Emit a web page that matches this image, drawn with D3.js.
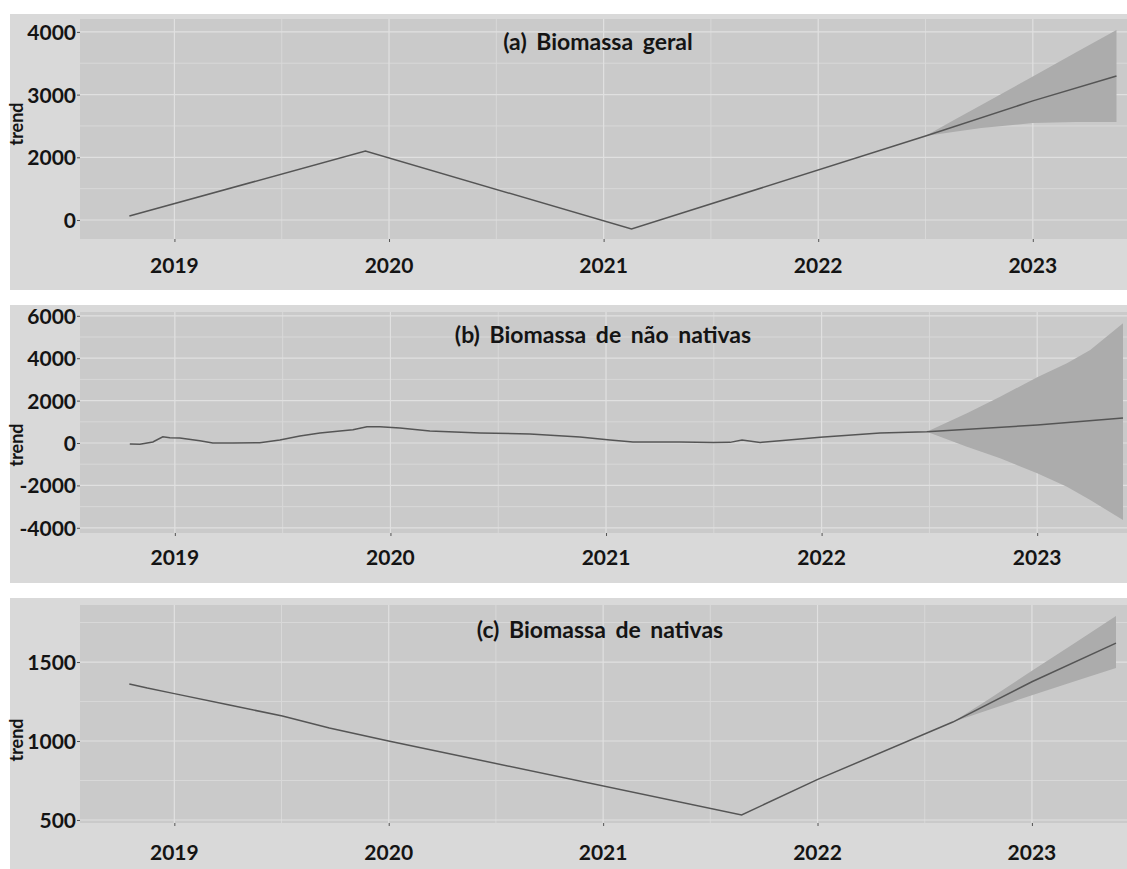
<!DOCTYPE html>
<html>
<head>
<meta charset="utf-8">
<script src="https://cdn.jsdelivr.net/npm/d3@7"></script>
<style>
  body { margin: 0; background: #ffffff; }
  svg text { font-family: Lato, "Open Sans", sans-serif; font-weight: 700; fill: #141414; }
</style>
</head>
<body>
<svg id="chart" width="1127" height="869"></svg>
<script>
// ---------- data ----------
const yearTicks = [2019, 2020, 2021, 2022, 2023];

// (a) Biomassa geral
const geralYears = [2018.79, 2019.89, 2021.13, 2022.50, 2023.00, 2023.39];
const geralTrend = [1064, 2100, 856, 2340, 2900, 3297];
const geralBandYears = [2022.50, 2022.62, 2022.76, 2023.00, 2023.20, 2023.39];
const geralLower = [2340, 2400, 2467, 2547, 2565, 2563];
const geralUpper = [2340, 2570, 2835, 3289, 3670, 4030];
const geralTicks = [1000, 2000, 3000, 4000];
const geralTickLabels = ["0", "2000", "3000", "4000"];
const geralMinor = [1500, 2500, 3500];

// (b) Biomassa de não nativas
const naoNativasYears = [2018.791, 2018.838, 2018.898, 2018.944, 2018.977, 2019.023, 2019.116, 2019.176,
  2019.269, 2019.394, 2019.487, 2019.580, 2019.673, 2019.766, 2019.826, 2019.891, 2019.951, 2020.044,
  2020.183, 2020.415, 2020.647, 2020.879, 2021.019, 2021.125, 2021.343, 2021.497, 2021.575, 2021.631,
  2021.715, 2021.807, 2021.993, 2022.271, 2022.488, 2023.000, 2023.398];
const naoNativasTrend = [-47, -60, 47, 297, 250, 236, 108, 0,
  0, 14, 141, 330, 472, 566, 627, 769, 769, 708,
  566, 470, 425, 283, 140, 47, 47, 20, 30, 140,
  30, 110, 270, 470, 533, 850, 1180];
const naoNativasBandYears = [2022.488, 2022.674, 2022.828, 2023.000, 2023.138, 2023.246, 2023.398];
const naoNativasLower = [533, -174, -722, -1429, -2061, -2689, -3632];
const naoNativasUpper = [533, 1400, 2184, 3099, 3759, 4387, 5646];
const naoNativasTicks = [-4000, -2000, 0, 2000, 4000, 6000];
const naoNativasTickLabels = ["-4000", "-2000", "0", "2000", "4000", "6000"];
const naoNativasMinor = [-3000, -1000, 1000, 3000, 5000];

// (c) Biomassa de nativas
const nativasYears = [2018.790, 2018.874, 2019.000, 2019.257, 2019.504, 2019.723, 2019.999,
  2021.646, 2022.001, 2022.631, 2023.000, 2023.392];
const nativasTrend = [1361, 1335, 1300, 1228, 1158, 1082, 1000, 532, 757, 1120, 1375, 1620];
const nativasBandYears = [2022.631, 2022.800, 2023.000, 2023.200, 2023.392];
const nativasLower = [1120, 1198, 1290, 1378, 1462];
const nativasUpper = [1120, 1266, 1444, 1620, 1791];
const nativasTicks = [500, 1000, 1500];
const nativasTickLabels = ["500", "1000", "1500"];
const nativasMinor = [750, 1250, 1750];

// ---------- panels ----------
const panels = [
  { title: "(a) Biomassa geral", years: geralYears, trend: geralTrend,
    bandYears: geralBandYears, lower: geralLower, upper: geralUpper,
    ticks: geralTicks, tickLabels: geralTickLabels, minor: geralMinor,
    yDomain: [697, 4206], outer: [10, 14, 290], plot: [80, 19, 239, 1168],
    titleX: 598, titleY: 50, yearY: 265, trendY: 124 },
  { title: "(b) Biomassa de não nativas", years: naoNativasYears, trend: naoNativasTrend,
    bandYears: naoNativasBandYears, lower: naoNativasLower, upper: naoNativasUpper,
    ticks: naoNativasTicks, tickLabels: naoNativasTickLabels, minor: naoNativasMinor,
    yDomain: [-4245, 6180], outer: [10, 305, 583], plot: [80, 312, 533, 1173],
    titleX: 603, titleY: 343, yearY: 557, trendY: 445 },
  { title: "(c) Biomassa de nativas", years: nativasYears, trend: nativasTrend,
    bandYears: nativasBandYears, lower: nativasLower, upper: nativasUpper,
    ticks: nativasTicks, tickLabels: nativasTickLabels, minor: nativasMinor,
    yDomain: [481, 1861], outer: [10, 598, 869], plot: [80, 605, 823, 1167],
    titleX: 600, titleY: 638, yearY: 852, trendY: 740 }
];

const svg = d3.select("#chart");
const W = 1127;

panels.forEach(p => {
  const [ox, oy0, oy1] = p.outer;
  const [px0, py0, py1, px1] = p.plot;
  const g = svg.append("g");

  // outer panel
  g.append("rect").attr("x", ox).attr("y", oy0).attr("width", W - ox).attr("height", oy1 - oy0)
    .attr("fill", "#d9d9d9");

  const x = d3.scaleLinear().domain([2018.56, 2023.63]).range([px0, px1]);
  const y = d3.scaleLinear().domain(p.yDomain).range([py1, py0]);

  // plot background
  g.append("rect").attr("x", px0).attr("y", py0).attr("width", px1 - px0).attr("height", py1 - py0)
    .attr("fill", "#cacaca");

  // grid
  const minorX = yearTicks.map(v => v - 0.5).concat([2023.5]).filter(v => x(v) > px0);
  g.selectAll(null).data(minorX).enter().append("line")
    .attr("x1", d => x(d)).attr("x2", d => x(d)).attr("y1", py0).attr("y2", py1)
    .attr("stroke", "#d8d8d8").attr("stroke-width", 1);
  g.selectAll(null).data(p.minor).enter().append("line")
    .attr("x1", px0).attr("x2", px1).attr("y1", d => y(d)).attr("y2", d => y(d))
    .attr("stroke", "#d8d8d8").attr("stroke-width", 1);
  g.selectAll(null).data(yearTicks).enter().append("line")
    .attr("x1", d => x(d)).attr("x2", d => x(d)).attr("y1", py0).attr("y2", py1)
    .attr("stroke", "#e0e0e0").attr("stroke-width", 1.2);
  g.selectAll(null).data(p.ticks).enter().append("line")
    .attr("x1", px0).attr("x2", px1).attr("y1", d => y(d)).attr("y2", d => y(d))
    .attr("stroke", "#e0e0e0").attr("stroke-width", 1.2);

  // forecast band
  const band = p.bandYears.map((t, i) => ({ t, lo: p.lower[i], hi: p.upper[i] }));
  g.append("path").datum(band)
    .attr("d", d3.area().x(d => x(d.t)).y0(d => y(d.lo)).y1(d => y(d.hi)))
    .attr("fill", "#acacac");

  // trend line
  const pts = p.years.map((t, i) => ({ t, v: p.trend[i] }));
  g.append("path").datum(pts)
    .attr("d", d3.line().x(d => x(d.t)).y(d => y(d.v)))
    .attr("fill", "none").attr("stroke", "#555555").attr("stroke-width", 1.5);

  // y axis
  const yAxis = d3.axisLeft(y).tickValues(p.ticks)
    .tickFormat((d, i) => p.tickLabels[i]).tickSize(3).tickPadding(1);
  const ya = g.append("g").attr("transform", `translate(${px0},0)`).call(yAxis);
  ya.select(".domain").remove();
  ya.selectAll(".tick line").attr("stroke", "#555");
  ya.selectAll(".tick text").style("font-size", "21px").attr("dy", "0.36em");

  // x axis
  const xAxis = d3.axisBottom(x).tickValues(yearTicks).tickFormat(d3.format("d")).tickSize(3).tickPadding(0);
  const xa = g.append("g").attr("transform", `translate(0,${py1})`).call(xAxis);
  xa.select(".domain").remove();
  xa.selectAll(".tick line").attr("stroke", "#555");
  xa.selectAll(".tick text").remove();
  g.selectAll(null).data(yearTicks).enter().append("text")
    .attr("x", d => x(d)).attr("y", p.yearY).attr("dy", "0.36em")
    .attr("text-anchor", "middle").style("font-size", "21px").text(d3.format("d"));

  // axis title
  g.append("text").attr("transform", `translate(23,${p.trendY}) rotate(-90)`)
    .attr("text-anchor", "middle").style("font-size", "18px").text("trend");

  // panel title
  g.append("text").attr("x", p.titleX).attr("y", p.titleY)
    .attr("text-anchor", "middle").style("font-size", "23px").style("word-spacing", "4px")
    .text(p.title);
});
</script>
</body>
</html>
